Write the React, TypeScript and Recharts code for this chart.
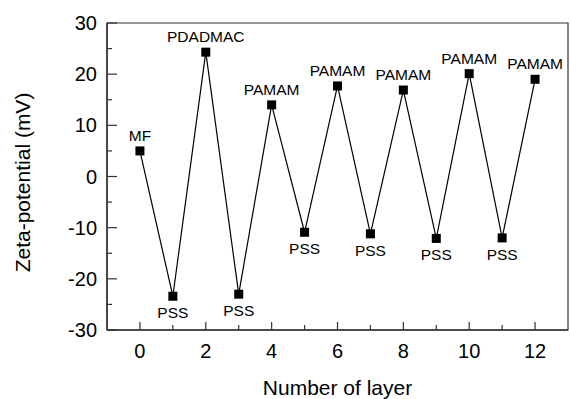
import React from "react";
import {
  LineChart,
  Line,
  XAxis,
  YAxis,
  ReferenceArea,
  LabelList,
} from "recharts";

const layers = [0, 1, 2, 3, 4, 5, 6, 7, 8, 9, 10, 11, 12];
const zeta = [5.0, -23.4, 24.3, -23.0, 14.0, -10.9, 17.7, -11.2, 16.9, -12.1, 20.1, -12.0, 19.0];
const coatings = ["MF", "PSS", "PDADMAC", "PSS", "PAMAM", "PSS", "PAMAM", "PSS", "PAMAM", "PSS", "PAMAM", "PSS", "PAMAM"];
const xTicks = [0, 1, 2, 3, 4, 5, 6, 7, 8, 9, 10, 11, 12];
const yTicks = [-30, -25, -20, -15, -10, -5, 0, 5, 10, 15, 20, 25, 30];

const data = layers.map((layer, i) => ({ layer, zeta: zeta[i], name: coatings[i] }));

const FONT = "'Liberation Sans', Arial, Helvetica, sans-serif";
const INK = "#000";
const AXIS = "#333";

function XTick(props: any) {
  const { x, y, payload } = props;
  const major = payload.value % 2 === 0;
  return (
    <g>
      <line x1={x} x2={x} y1={y} y2={y - (major ? 8 : 5)} stroke={AXIS} strokeWidth={1.2} />
      {major && (
        <text x={x} y={y + 28} textAnchor="middle" fontSize={20} fontFamily={FONT} fill={INK}>
          {payload.value}
        </text>
      )}
    </g>
  );
}

function YTick(props: any) {
  const { x, y, payload } = props;
  const major = payload.value % 10 === 0;
  return (
    <g>
      <line x1={x} x2={x + (major ? 10 : 5)} y1={y} y2={y} stroke={AXIS} strokeWidth={1.2} />
      {major && (
        <text x={x - 10} y={y + 7} textAnchor="end" fontSize={20} fontFamily={FONT} fill={INK}>
          {payload.value}
        </text>
      )}
    </g>
  );
}

function SquareDot(props: any) {
  const { cx, cy } = props;
  if (cx == null || cy == null) return null;
  return <rect x={cx - 4.5} y={cy - 4.5} width={9} height={9} fill={INK} />;
}

function PointLabel(props: any) {
  const { x, y, value, index } = props;
  const below = zeta[index] < 0;
  return (
    <text
      x={x}
      y={below ? y + 22 : y - 10}
      textAnchor="middle"
      fontSize={15.5}
      fontFamily={FONT}
      fill={INK}
    >
      {value}
    </text>
  );
}

export default function App() {
  return (
    <div style={{ position: "absolute", left: 0, top: 0, width: 571, height: 399, background: "#fff" }}>
      <LineChart width={571} height={399} data={data} margin={{ top: 23, right: 3, bottom: 0, left: 0 }}>
        <XAxis
          dataKey="layer"
          type="number"
          domain={[-1, 13]}
          ticks={xTicks}
          interval={0}
          height={69}
          tickSize={0}
          tickMargin={0}
          tickLine={false}
          axisLine={{ stroke: AXIS, strokeWidth: 1.5 }}
          tick={<XTick />}
          label={{
            content: ({ viewBox }: any) => (
              <text
                x={viewBox.x + viewBox.width / 2}
                y={viewBox.y + 65}
                textAnchor="middle"
                fontSize={21}
                fontFamily={FONT}
                fill={INK}
              >
                Number of layer
              </text>
            ),
          }}
        />
        <YAxis
          type="number"
          domain={[-30, 30]}
          ticks={yTicks}
          interval={0}
          width={107}
          tickSize={0}
          tickMargin={0}
          tickLine={false}
          axisLine={{ stroke: AXIS, strokeWidth: 1.5 }}
          tick={<YTick />}
          label={{
            content: ({ viewBox }: any) => {
              const cx = 30;
              const cy = viewBox.y + viewBox.height / 2 + 6;
              return (
                <text
                  x={cx}
                  y={cy}
                  transform={`rotate(-90 ${cx} ${cy})`}
                  textAnchor="middle"
                  fontSize={21}
                  fontFamily={FONT}
                  fill={INK}
                >
                  Zeta-potential (mV)
                </text>
              );
            },
          }}
        />
        <ReferenceArea
          x1={-1}
          x2={13}
          y1={-30}
          y2={30}
          fill="none"
          stroke={AXIS}
          strokeWidth={1.2}
          ifOverflow="visible"
        />
        <Line
          dataKey="zeta"
          stroke={INK}
          strokeWidth={1.2}
          dot={<SquareDot />}
          activeDot={false}
          isAnimationActive={false}
        >
          <LabelList dataKey="name" content={<PointLabel />} />
        </Line>
      </LineChart>
    </div>
  );
}
